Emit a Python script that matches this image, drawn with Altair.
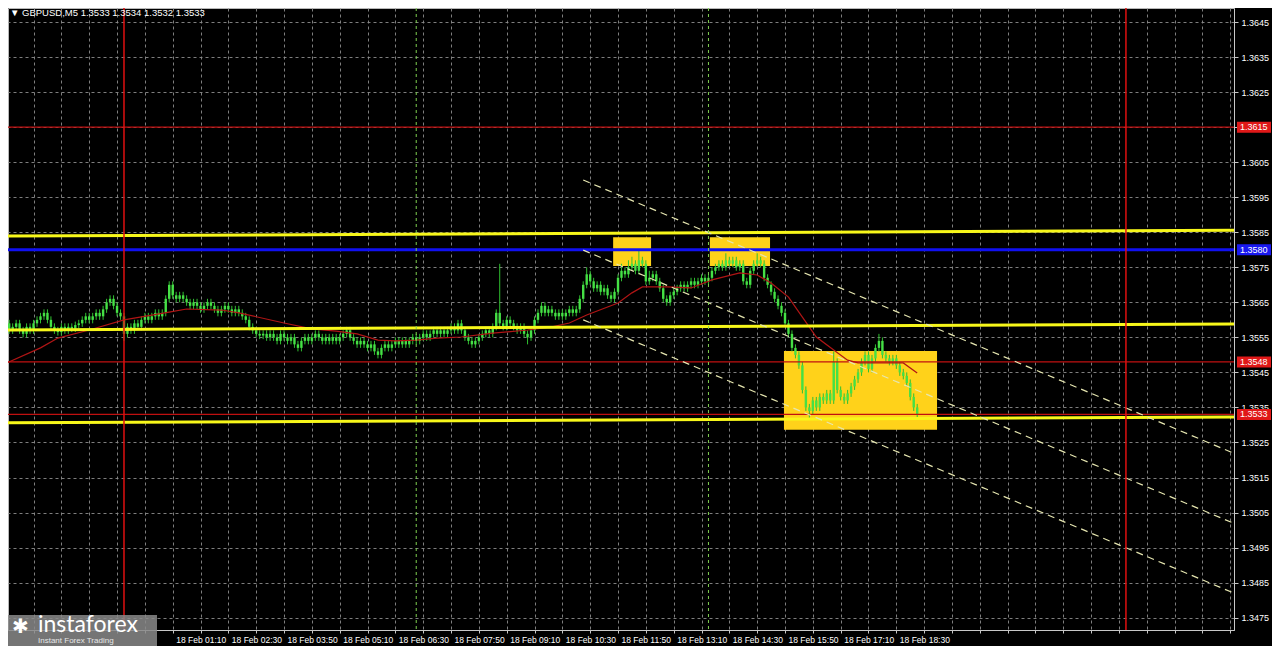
import altair as alt
import pandas as pd
from datetime import datetime, timedelta

TITLE_TEXT = "\u25bc GBPUSD,M5  1.3533 1.3534 1.3532 1.3533"
DAY0 = datetime(2025, 2, 18)
BAR_MINUTES = 5
FIRST_BAR = -35
BASE = 1.35
PIP = 0.0001
FIRST_OPEN = 57

# closes / highs / lows in pips above 1.3500, one per M5 bar from 17 Feb 21:05
CLOSE = [
    58, 59, 57, 58, 59, 57, 56, 58, 57, 59,
    60, 61, 62, 60, 58, 57, 56.5, 58, 57, 58,
    57.5, 58.5, 59, 60, 61, 60, 61, 62, 61, 63,
    65, 66, 64, 62, 61, 56, 58, 57, 59, 58,
    60, 61, 60, 61, 62, 61, 62, 66, 70, 67,
    66, 67, 66, 65, 64, 65, 64, 63, 64, 65,
    64, 63, 62, 63, 64, 63, 62, 63, 62, 61,
    60, 58, 57, 56, 55.5, 56, 55, 56, 55, 54,
    56, 55, 54, 55, 53, 52, 54, 55, 54, 55,
    56, 55, 54, 55, 54, 55, 54, 55, 56, 57,
    55, 54, 53, 54, 53, 52, 53, 51, 50, 52,
    53, 52, 53, 54, 53, 54, 53, 54, 55, 54,
    55, 56, 55, 56, 57, 56, 57, 56, 57, 58,
    57, 59, 57, 55, 54, 53, 54, 55, 56, 57,
    56, 58, 62, 59, 58, 60, 59, 58, 57, 58,
    56, 55, 57, 60, 62, 64, 62, 63, 62, 61,
    62, 61, 62, 63, 62, 63, 66, 70, 73, 71,
    69, 70, 68, 69, 67, 66, 68, 72, 74, 73,
    75, 76, 74, 77, 76, 71, 72, 73, 71, 69,
    66, 65, 67, 68, 69, 70, 69, 70, 71, 70,
    71, 72, 71, 72, 74, 75, 76, 75, 77, 76,
    77, 75, 76, 71, 70, 74, 76, 77, 76, 72,
    70, 68, 66, 64, 62, 59, 56, 52, 50, 47,
    40, 35, 34, 37, 35, 38, 37, 39, 37, 48,
    40, 38, 37, 39, 41, 43, 45, 48, 50, 46,
    49, 52, 54, 50, 49, 48, 49, 47, 45, 44,
    42, 38, 35, 33]
HIGH = [
    59, 60, 60, 59, 60, 60, 58, 59, 59, 60,
    61, 62, 63, 63, 61, 59, 58, 59, 59, 59,
    59, 59.5, 60, 61, 62, 62, 62, 63, 63, 64,
    66, 67, 67, 65, 63, 62, 59, 59, 60, 60,
    61, 62, 62, 62, 63, 63, 63, 67, 71, 71,
    68, 68, 68, 67, 66, 66, 66, 65, 65, 66,
    66, 65, 64, 64, 65, 65, 64, 64, 64, 63,
    62, 61, 59, 58, 57, 57, 57, 57, 57, 56,
    57, 57, 56, 56, 56, 54, 55, 56, 56, 56,
    57, 57, 56, 56, 56, 56, 56, 56, 57, 58,
    58, 56, 55, 55, 55, 54, 54, 54, 52, 53,
    54, 54, 54, 55, 55, 55, 55, 55, 56, 56,
    56, 57, 57, 57, 58, 58, 58, 58, 58, 59,
    59, 60, 60, 58, 56, 55, 55, 56, 57, 58,
    58, 59, 63, 76, 60, 61, 61, 60, 59, 59,
    59, 57, 58, 61, 63, 65, 65, 64, 64, 63,
    63, 63, 63, 64, 64, 64, 67, 71, 75, 74,
    72, 71, 71, 70, 70, 68, 69, 73, 76, 75,
    77, 78, 77, 80, 78, 77, 74, 74, 74, 72,
    70, 67, 68, 69, 70, 71, 71, 71, 72, 72,
    72, 73, 73, 73, 75, 76, 77, 77, 79, 78,
    78, 78, 77, 77, 72, 75, 77, 79, 78, 77,
    73, 71, 69, 67, 65, 63, 60, 57, 53, 51,
    48, 41, 36, 38, 38, 39, 39, 40, 40, 51,
    49, 41, 39, 40, 42, 44, 46, 49, 51, 51,
    50, 53, 56, 55, 51, 50, 50, 50, 48, 46,
    45, 43, 39, 36]
LOW = [
    56, 57, 56, 56, 57, 56, 55, 55, 56, 56,
    58, 59, 60, 59, 57, 56, 55.5, 55.5, 56, 56,
    56.5, 56.5, 57.5, 58, 59, 59, 59, 60, 60, 60,
    62, 64, 63, 61, 60, 54, 55, 56, 56, 57,
    57, 59, 59, 59, 60, 60, 60, 61, 65, 66,
    65, 65, 65, 64, 63, 63, 63, 62, 62, 63,
    63, 62, 61, 61, 62, 62, 61, 61, 61, 60,
    59, 57, 56, 55, 54.5, 54.5, 54, 54, 54, 53,
    53, 54, 53, 53, 52, 51, 51, 53, 53, 53,
    54, 54, 53, 53, 53, 53, 53, 53, 54, 55,
    54, 53, 52, 52, 52, 51, 51, 50, 49, 49,
    51, 51, 51, 52, 52, 52, 52, 52, 53, 53,
    53, 54, 54, 54, 55, 55, 55, 55, 55, 56,
    56, 56, 56, 54, 53, 52, 52, 53, 54, 55,
    55, 55, 57, 58, 57, 57, 58, 57, 56, 56,
    55, 53, 54, 56, 59, 61, 61, 61, 61, 60,
    60, 60, 60, 61, 61, 61, 62, 65, 69, 70,
    68, 68, 67, 67, 66, 65, 65, 67, 71, 72,
    72, 74, 73, 73, 75, 70, 70, 71, 70, 68,
    65, 64, 64, 66, 67, 68, 68, 68, 69, 69,
    69, 70, 70, 70, 71, 73, 74, 74, 74, 75,
    75, 74, 74, 70, 69, 69, 73, 75, 75, 71,
    69, 67, 65, 63, 61, 58, 55, 51, 49, 46,
    39, 34, 32, 33, 34, 34, 36, 36, 36, 36,
    39, 37, 36, 36, 38, 40, 42, 44, 47, 45,
    45, 48, 51, 49, 48, 47, 47, 46, 44, 43,
    41, 37, 34, 32]

# moving average (bar index, pips above 1.3500)
MA_BAR = [-35, -24, -19, -10, 0, 13, 18, 28, 33, 46, 54, 61, 67, 73, 78, 84, 90, 97,
          106, 116, 123, 128, 133, 142, 146, 149, 156, 163, 169, 177, 182, 186, 191,
          195, 199, 204, 208, 211, 216, 224, 228]
MA_PIP = [47.1, 52.0, 54.8, 57.1, 60.0, 62.2, 63.1, 62.8, 62.0, 59.1, 57.4, 56.8, 56.0,
          54.2, 54.0, 54.2, 54.8, 55.1, 56.2, 57.1, 58.0, 59.1, 61.4, 64.8, 67.7, 69.4,
          69.4, 69.1, 71.4, 73.4, 72.8, 70.5, 66.5, 60.8, 55.1, 51.4, 48.5, 47.7, 47.7,
          47.7, 44.8]

PRICE_TICKS = [1.3475, 1.3485, 1.3495, 1.3505, 1.3515, 1.3525, 1.3535, 1.3545, 1.3555,
               1.3565, 1.3575, 1.3585, 1.3595, 1.3605, 1.3615, 1.3625, 1.3635, 1.3645]
RED_LEVELS = [1.3615, 1.3548, 1.3533]
BLUE_LEVEL = [1.3580]
YELLOW_LEFT = [1.35839, 1.35571, 1.35306]
YELLOW_RIGHT = [1.35856, 1.35588, 1.35323]
CHANNEL_START_BAR = 132
CHANNEL_START = [1.35999, 1.35799, 1.35600]
CHANNEL_END = [1.35219, 1.35019, 1.34820]
RED_VLINE_BARS = [0, 288]
GREEN_VLINE_BARS = [84, 168]
BOX_START = [140.6, 168.4, 189.7]
BOX_END = [151.5, 185.7, 233.7]
BOX_TOP = [1.35836, 1.35836, 1.35511]
BOX_BOTTOM = [1.35754, 1.35754, 1.35286]
TAG_PRICES = [1.3615, 1.3580, 1.3548, 1.3533]
TAG_TEXT = ["1.3615", "1.3580", "1.3548", "1.3533"]
TAG_KIND = ["red", "blue", "red", "red"]

X_LEFT_BAR = -33.34
X_RIGHT_BAR = 319.06
Y_MIN = 1.347148
Y_MAX = 1.364900

W = 1226
H = 622
FONT = "Liberation Sans"


def bar_time(b):
    return DAY0 + timedelta(minutes=BAR_MINUTES * b)


def to_dt(t):
    return alt.DateTime(year=t.year, month=t.month, date=t.day, hours=t.hour,
                        minutes=t.minute, seconds=t.second)


# ---------- tables ----------
opens = [FIRST_OPEN] + CLOSE[:-1]
candles = pd.DataFrame({
    "t": [bar_time(FIRST_BAR + i) for i in range(len(CLOSE))],
    "o": [BASE + v * PIP for v in opens],
    "c": [BASE + v * PIP for v in CLOSE],
    "h": [BASE + v * PIP for v in HIGH],
    "l": [BASE + v * PIP for v in LOW],
})
ma = pd.DataFrame({"t": [bar_time(b) for b in MA_BAR], "p": [BASE + v * PIP for v in MA_PIP]})

yl_rows = []
for i, (a, b) in enumerate(zip(YELLOW_LEFT, YELLOW_RIGHT)):
    yl_rows.append({"id": i, "t": bar_time(X_LEFT_BAR), "p": a})
    yl_rows.append({"id": i, "t": bar_time(X_RIGHT_BAR), "p": b})
yellow = pd.DataFrame(yl_rows)

ch_rows = []
for i, (a, b) in enumerate(zip(CHANNEL_START, CHANNEL_END)):
    ch_rows.append({"id": i, "t": bar_time(CHANNEL_START_BAR), "p": a})
    ch_rows.append({"id": i, "t": bar_time(X_RIGHT_BAR), "p": b})
channel = pd.DataFrame(ch_rows)

boxes = pd.DataFrame({
    "t": [bar_time(b) for b in BOX_START], "t2": [bar_time(b) for b in BOX_END],
    "p": BOX_TOP, "p2": BOX_BOTTOM,
})
red_h = pd.DataFrame({"p": RED_LEVELS})
blue_h = pd.DataFrame({"p": BLUE_LEVEL})
red_v = pd.DataFrame({"t": [bar_time(b) for b in RED_VLINE_BARS]})
green_v = pd.DataFrame({"t": [bar_time(b) for b in GREEN_VLINE_BARS]})
tags = pd.DataFrame({"p": TAG_PRICES, "txt": TAG_TEXT, "kind": TAG_KIND})

# axis tick positions every 40 minutes (labels on every second one)
grid_times = []
g = datetime(2025, 2, 17, 21, 10)
while g <= bar_time(X_RIGHT_BAR):
    grid_times.append(to_dt(g))
    g += timedelta(minutes=40)

x_scale = alt.Scale(domain=[to_dt(bar_time(X_LEFT_BAR)), to_dt(bar_time(X_RIGHT_BAR))],
                    nice=False, padding=0)
y_scale = alt.Scale(domain=[Y_MIN, Y_MAX], nice=False, zero=False, padding=0)

label_expr = (
    "((hours(datum.value)*60 + minutes(datum.value) + 10) % 80 == 0) && "
    "datum.value >= datetime(2025,1,18,1,10) && datum.value <= datetime(2025,1,18,18,30)"
    " ? timeFormat(datum.value, '%d %b %H:%M') : ''"
)
x_axis = alt.Axis(values=grid_times, labelExpr=label_expr, labelAlign="left", labelOffset=3,
                  labelPadding=2, tickSize=3, grid=True, title=None, labelOverlap=False,
                  labelFontSize=8.5)
y_axis = alt.Axis(values=PRICE_TICKS, format=".4f", orient="right", tickSize=4, labelPadding=3,
                  grid=True, title=None, labelOverlap=False, labelFontSize=9)


def X(f):
    return alt.X(f, type="temporal", scale=x_scale, axis=x_axis)


def Y(f):
    return alt.Y(f, type="quantitative", scale=y_scale, axis=y_axis)


box_layer = alt.Chart(boxes).mark_rect(color="#ffd21a", opacity=1, clip=True).encode(
    x=X("t"), x2="t2", y=Y("p"), y2="p2")

wicks = alt.Chart(candles).mark_rule(color="#30c030", strokeWidth=1, clip=True).encode(
    x=X("t"), y=Y("l"), y2="h")
bodies = alt.Chart(candles).mark_bar(color="#45e045", size=2.4, clip=True).encode(
    x=X("t"), y=Y("o"), y2="c")

ma_layer = alt.Chart(ma).mark_line(color="#b01515", strokeWidth=1.2, clip=True).encode(
    x=X("t"), y=Y("p"))

red_h_layer = alt.Chart(red_h).mark_rule(color="#c01010", strokeWidth=1.2, clip=True).encode(y=Y("p"))
blue_layer = alt.Chart(blue_h).mark_rule(color="#1010f0", strokeWidth=3, clip=True).encode(y=Y("p"))
yellow_layer = alt.Chart(yellow).mark_line(color="#f7f71a", strokeWidth=3, clip=True).encode(
    x=X("t"), y=Y("p"), detail="id:N")
channel_layer = alt.Chart(channel).mark_line(color="#e6e6b0", strokeWidth=1.2, strokeDash=[7, 5],
                                             clip=True).encode(x=X("t"), y=Y("p"), detail="id:N")
red_v_layer = alt.Chart(red_v).mark_rule(color="#e01010", strokeWidth=1.5, clip=True).encode(x=X("t"))
green_v_layer = alt.Chart(green_v).mark_rule(color="#7fd050", strokeWidth=1, strokeDash=[3, 3],
                                             clip=True).encode(x=X("t"))

tag_boxes = alt.Chart(tags).mark_tick(orient="horizontal", thickness=11, size=34, opacity=1).encode(
    x=alt.value(W + 20), y=Y("p"),
    color=alt.Color("kind:N", scale=alt.Scale(domain=["red", "blue"], range=["#e01818", "#1818f0"]), legend=None))
tag_text = alt.Chart(tags).mark_text(align="left", baseline="middle", font=FONT, fontSize=9,
                                     color="#ffffff").encode(x=alt.value(W + 6), y=Y("p"), text="txt:N")

title_text = alt.Chart(pd.DataFrame({"txt": [TITLE_TEXT]})).mark_text(
    align="left", baseline="middle", font=FONT, fontSize=9.5, color="#ffffff").encode(
    x=alt.value(2), y=alt.value(5), text="txt:N")

logo_box = alt.Chart(pd.DataFrame({"a": [0]})).mark_rect(color="#8a8a8a", opacity=0.85).encode(
    x=alt.value(0), x2=alt.value(149), y=alt.value(H - 15), y2=alt.value(H + 16))
logo_text = alt.Chart(pd.DataFrame({"txt": ["instaforex"]})).mark_text(
    align="left", baseline="middle", font="Lato", fontSize=23, color="#ffffff").encode(
    x=alt.value(30), y=alt.value(H - 5), text="txt:N")
logo_icon = alt.Chart(pd.DataFrame({"txt": ["\u2731"]})).mark_text(
    align="left", baseline="middle", font="DejaVu Sans", fontSize=20, color="#ffffff").encode(
    x=alt.value(4), y=alt.value(H - 3), text="txt:N")
logo_sub = alt.Chart(pd.DataFrame({"txt": ["Instant Forex Trading"]})).mark_text(
    align="left", baseline="middle", font=FONT, fontSize=8, color="#e8e8e8").encode(
    x=alt.value(30), y=alt.value(H + 11), text="txt:N")

chart = alt.layer(
    box_layer, wicks, bodies, ma_layer, red_h_layer, yellow_layer, blue_layer,
    channel_layer, red_v_layer, green_v_layer, tag_boxes, tag_text, title_text,
    logo_box, logo_icon, logo_text, logo_sub,
).properties(
    width=W, height=H, background="#000000",
    autosize=alt.AutoSizeParams(type="none"),
    padding={"left": 0, "top": 0, "right": 38, "bottom": 16},
).configure_view(
    stroke="#b8b8b8", strokeWidth=1
).configure_axis(
    labelColor="#ffffff", labelFont=FONT, tickColor="#c8c8c8",
    domainColor="#c8c8c8", gridColor="#8c8c8c", gridDash=[3, 3], gridOpacity=0.9, gridWidth=1,
)

chart.save("out.html", embed_options={"renderer": "svg", "actions": False})
